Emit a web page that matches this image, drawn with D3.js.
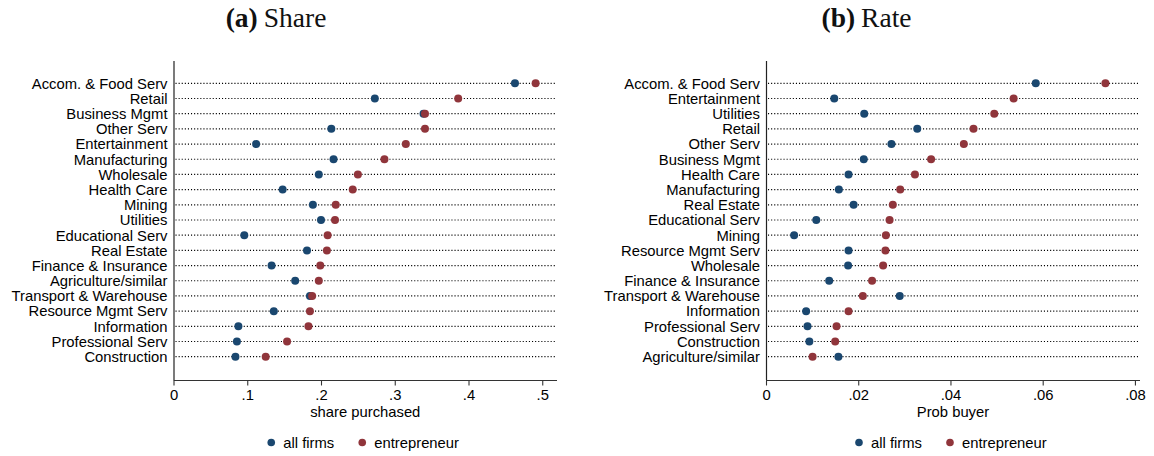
<!DOCTYPE html>
<html>
<head>
<meta charset="utf-8">
<script src="https://cdn.jsdelivr.net/npm/d3@7"></script>
<style>
  html, body { margin: 0; padding: 0; background: #fff; }
  svg { display: block; }
  text { font-family: "Liberation Sans", Arial, sans-serif; }
</style>
</head>
<body>
<svg id="chart" width="1154" height="456"></svg>
<script>
// Panel (a): share of acquisitions purchased, by industry
const shareCategories = [
  "Accom. & Food Serv", "Retail", "Business Mgmt", "Other Serv", "Entertainment",
  "Manufacturing", "Wholesale", "Health Care", "Mining", "Utilities",
  "Educational Serv", "Real Estate", "Finance & Insurance", "Agriculture/similar",
  "Transport & Warehouse", "Resource Mgmt Serv", "Information", "Professional Serv",
  "Construction"
];
const shareAllFirms = [
  0.463, 0.273, 0.339, 0.214, 0.112, 0.217, 0.197, 0.148, 0.189, 0.200,
  0.096, 0.181, 0.133, 0.165, 0.185, 0.136, 0.088, 0.086, 0.084
];
const shareEntrepreneur = [
  0.491, 0.386, 0.341, 0.341, 0.315, 0.286, 0.250, 0.243, 0.220, 0.219,
  0.209, 0.208, 0.199, 0.197, 0.188, 0.185, 0.183, 0.154, 0.125
];
const shareTicks = [0, 0.1, 0.2, 0.3, 0.4, 0.5];
const shareTickLabels = ["0", ".1", ".2", ".3", ".4", ".5"];

// Panel (b): probability of being a buyer, by industry
const rateCategories = [
  "Accom. & Food Serv", "Entertainment", "Utilities", "Retail", "Other Serv",
  "Business Mgmt", "Health Care", "Manufacturing", "Real Estate", "Educational Serv",
  "Mining", "Resource Mgmt Serv", "Wholesale", "Finance & Insurance",
  "Transport & Warehouse", "Information", "Professional Serv", "Construction",
  "Agriculture/similar"
];
const rateAllFirms = [
  0.0585, 0.0148, 0.0213, 0.0328, 0.0272, 0.0212, 0.0179, 0.0158, 0.0190, 0.0109,
  0.0061, 0.0179, 0.0178, 0.0137, 0.0290, 0.0087, 0.0090, 0.0094, 0.0157
];
const rateEntrepreneur = [
  0.0736, 0.0537, 0.0495, 0.0450, 0.0429, 0.0358, 0.0323, 0.0291, 0.0275, 0.0268,
  0.0260, 0.0259, 0.0254, 0.0230, 0.0210, 0.0179, 0.0153, 0.0150, 0.0101
];
const rateTicks = [0, 0.02, 0.04, 0.06, 0.08];
const rateTickLabels = ["0", ".02", ".04", ".06", ".08"];

const seriesNames = ["all firms", "entrepreneur"];
const seriesColors = ["#1a476f", "#90353b"];

const FONT_SIZE = "14.8px";
const svg = d3.select("#chart");

function drawPanel(opts) {
  const { tag, title, categories, allFirms, entrepreneur, ticks, tickLabels,
          xMax, left, right, axisTitle, titleX } = opts;
  const top = 61, bottom = 380;

  const x = d3.scaleLinear().domain([0, xMax]).range([left, right]);
  const y = d3.scalePoint().domain(categories).range([83.3, 356.7]);

  const g = svg.append("g");

  // panel title: bold tag followed by the roman word
  const t = g.append("text")
    .attr("x", titleX)
    .attr("y", 27)
    .attr("text-anchor", "middle")
    .style("font-family", "'Liberation Serif', 'Times New Roman', serif")
    .style("font-size", "27.5px")
    .attr("fill", "#111");
  t.append("tspan").style("font-weight", "bold").text(tag);
  t.append("tspan").attr("dx", 6).text(title);

  // dotted row guides
  g.append("g").selectAll("line").data(categories).join("line")
    .attr("x1", left + 2).attr("x2", right - 1)
    .attr("y1", d => y(d)).attr("y2", d => y(d))
    .attr("stroke", "#000").attr("stroke-width", 1.2)
    .attr("stroke-dasharray", "1.1,2");

  // category labels
  g.append("g").selectAll("text").data(categories).join("text")
    .attr("x", left - 6).attr("y", d => y(d))
    .attr("dy", "0.36em")
    .attr("text-anchor", "end")
    .style("font-size", FONT_SIZE)
    .attr("fill", "#000")
    .text(d => d);

  // y axis line
  g.append("line")
    .attr("x1", left + 0.5).attr("x2", left + 0.5)
    .attr("y1", top).attr("y2", bottom)
    .attr("stroke", "#222").attr("stroke-width", 1.2);

  // x axis
  const xAxis = d3.axisBottom(x)
    .tickValues(ticks)
    .tickFormat((d, i) => tickLabels[i])
    .tickSize(5).tickSizeOuter(0).tickPadding(4);
  const ax = g.append("g")
    .attr("transform", `translate(0,${bottom + 0.5})`)
    .call(xAxis);
  ax.select(".domain").attr("stroke", "#333").attr("stroke-width", 1.2)
    .attr("d", `M${left},0H${right}`);
  ax.selectAll(".tick line").attr("stroke", "#333").attr("stroke-width", 1.1);
  ax.selectAll(".tick text")
    .style("font-family", "'Liberation Sans', Arial, sans-serif")
    .style("font-size", FONT_SIZE).attr("fill", "#000");

  // axis title
  g.append("text")
    .attr("x", (left + right) / 2).attr("y", 416.5)
    .attr("text-anchor", "middle")
    .style("font-size", FONT_SIZE).attr("fill", "#000")
    .text(axisTitle);

  // dots: all firms first, entrepreneur drawn on top
  [allFirms, entrepreneur].forEach((vals, s) => {
    g.append("g").selectAll("circle").data(categories).join("circle")
      .attr("cx", (d, i) => x(vals[i]))
      .attr("cy", d => y(d))
      .attr("r", 4)
      .attr("fill", seriesColors[s]);
  });

  // legend
  const cx = (left + right) / 2;
  const legendX = [cx - 94, cx - 3];
  seriesNames.forEach((name, s) => {
    g.append("circle")
      .attr("cx", legendX[s]).attr("cy", 442.5).attr("r", 3.8)
      .attr("fill", seriesColors[s]);
    g.append("text")
      .attr("x", legendX[s] + 12).attr("y", 447.8)
      .style("font-size", FONT_SIZE).attr("fill", "#000")
      .text(name);
  });
}

drawPanel({
  tag: "(a)", title: "Share",
  categories: shareCategories, allFirms: shareAllFirms, entrepreneur: shareEntrepreneur,
  ticks: shareTicks, tickLabels: shareTickLabels,
  xMax: 0.52, left: 173.5, right: 557, axisTitle: "share purchased", titleX: 276
});

drawPanel({
  tag: "(b)", title: "Rate",
  categories: rateCategories, allFirms: rateAllFirms, entrepreneur: rateEntrepreneur,
  ticks: rateTicks, tickLabels: rateTickLabels,
  xMax: 0.0811, left: 766, right: 1140, axisTitle: "Prob buyer", titleX: 866.5
});
</script>
</body>
</html>
